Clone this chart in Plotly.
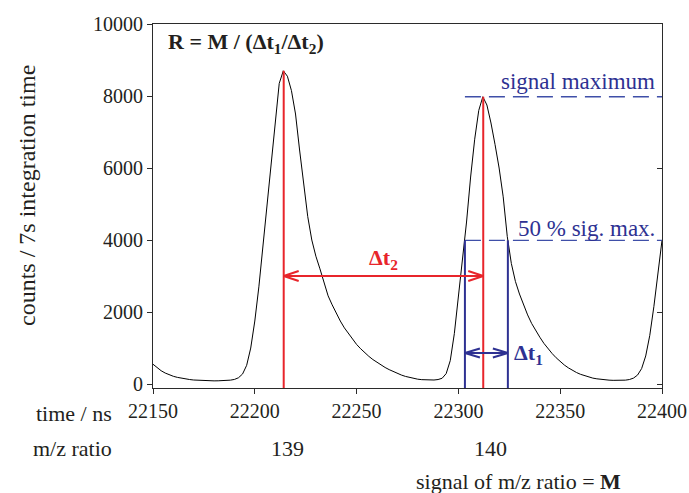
import plotly.graph_objects as go

# ---------------- data ----------------
time_ns = list(range(22150, 22401, 2))
counts = [
    550, 450, 370, 305, 255, 215, 185, 160, 140, 125,
    112, 104, 98, 93, 90, 88, 90, 92, 98, 108,
    128, 175, 280, 520, 1000, 1750, 2700, 3800, 5000, 6200,
    7250, 8350, 8700, 8550, 8150, 7500, 6500, 5500, 4650, 4000,
    3550, 3200, 2850, 2450, 2200, 1950, 1750, 1560, 1400, 1240,
    1100, 980, 870, 770, 680, 600, 525, 460, 400, 345,
    295, 250, 212, 180, 155, 135, 122, 112, 108, 112,
    125, 160, 290, 650, 1400, 2450, 3550, 4500, 5750, 6800,
    7600, 7980, 7750, 7250, 6650, 6000, 5200, 4100, 3350, 2850,
    2500, 2200, 1920, 1680, 1480, 1300, 1130, 980, 850, 730,
    620, 530, 450, 380, 320, 270, 230, 195, 165, 145,
    128, 116, 108, 103, 100, 102, 108, 125, 165, 250,
    430, 780, 1350, 2150, 3050, 3990,
]

x_ticks = [22150, 22200, 22250, 22300, 22350, 22400]
y_ticks = [0, 2000, 4000, 6000, 8000, 10000]
mz_labels = ["139", "140"]
mz_label_times = [22216, 22316]

peak_times = [22214.2, 22312.2]      # red lines
peak_heights = [8700, 7980]
signal_max = 7980
half_max = 3990
half_left, half_right = 22303.2, 22324.3
dt2_y = 3000
dt1_y = 860

X_MIN, X_MAX = 22150, 22400
Y_MIN, Y_MAX = -110, 10000

RED = "#E8252B"
BLUE = "#2E3192"
DBLUE = "#3F4FA8"
AX = "#2b2b2b"
TXT = "#231F20"
FONT = '"Liberation Serif", "Times New Roman", Times, serif'

W, H = 689, 493
ML, MR, MT, MB = 153, 27, 24, 105
PW, PH = W - ML - MR, H - MT - MB
px_x = (X_MAX - X_MIN) / PW   # data units per px
px_y = (Y_MAX - Y_MIN) / PH


def py(pix):
    return 1 - (pix - MT) / PH


def pxp(pix):
    return (pix - ML) / PW


fig = go.Figure()
fig.add_trace(go.Scatter(x=time_ns, y=counts, mode="lines",
                         line=dict(color="black", width=1), showlegend=False,
                         hoverinfo="skip"))
fig.add_trace(go.Scatter(x=[X_MIN], y=[0], yaxis="y2", mode="markers",
                         marker=dict(opacity=0), showlegend=False, hoverinfo="skip"))

shapes = []
for lvl in (signal_max, half_max):
    shapes.append(dict(type="line", xref="x", yref="y", x0=half_left, x1=X_MAX,
                       y0=lvl, y1=lvl, line=dict(color=DBLUE, width=1.3, dash="16px,8px")))
for t, h in zip(peak_times, peak_heights):
    shapes.append(dict(type="line", xref="x", yref="y", x0=t, x1=t, y0=Y_MIN, y1=h,
                       line=dict(color=RED, width=2)))
for t in (half_left, half_right):
    shapes.append(dict(type="line", xref="x", yref="y", x0=t, x1=t, y0=Y_MIN, y1=half_max,
                       line=dict(color=BLUE, width=2)))


def double_arrow(x0, x1, y, color, head_len_px=15, head_half_px=5):
    hl = head_len_px * px_x
    hh = head_half_px * px_y
    out = [dict(type="line", xref="x", yref="y", x0=x0, x1=x1, y0=y, y1=y,
                line=dict(color=color, width=2))]
    for xe, sgn in ((x0, 1), (x1, -1)):
        for d in (1, -1):
            out.append(dict(type="line", xref="x", yref="y", x0=xe, x1=xe + sgn * hl,
                            y0=y, y1=y + d * hh, line=dict(color=color, width=2)))
    return out


shapes += double_arrow(peak_times[0], peak_times[1], dt2_y, RED)
shapes += double_arrow(half_left, half_right, dt1_y, BLUE, head_len_px=15, head_half_px=4.5)


def ann(text, x, y, xanchor="center", size=22, color=TXT, xref="paper", yref="paper", **kw):
    return dict(text=text, xref=xref, yref=yref, x=x, y=y, xanchor=xanchor,
                yanchor="middle", showarrow=False,
                font=dict(family=FONT, size=size, color=color), **kw)


annotations = [
    ann("<b>R = M / (Δt<sub>1</sub>/Δt<sub>2</sub>)</b>", pxp(166), py(43), "left", 22),
    ann("signal maximum", 22397.5, py(81), "right", 23, BLUE, xref="x"),
    ann("50 % sig. max.", 22397.5, py(228), "right", 23, BLUE, xref="x"),
    ann("<b>Δt<sub>2</sub></b>", (peak_times[0] + peak_times[1]) / 2, dt2_y + 470,
        "center", 22, RED, xref="x", yref="y"),
    ann("<b>Δt<sub>1</sub></b>", half_right + 2, dt1_y - 20, "left", 22, BLUE,
        xref="x", yref="y"),
    ann("counts / 7s integration time", pxp(27), py(196), "center", 24, textangle=-90),
    ann("time / ns", pxp(114), py(413), "right", 22),
    ann("m/z ratio", pxp(114), py(448), "right", 22),
    ann("signal of m/z ratio = <b>M</b>", pxp(623), py(481), "right", 22),
]
for lab, t in zip(mz_labels, mz_label_times):
    annotations.append(ann(lab, t, py(448), "center", 22, xref="x"))

fig.update_layout(
    width=W, height=H,
    margin=dict(l=ML, r=MR, t=MT, b=MB, pad=0, autoexpand=False),
    paper_bgcolor="white", plot_bgcolor="white",
    showlegend=False,
    shapes=shapes, annotations=annotations,
    xaxis=dict(range=[X_MIN, X_MAX], tickvals=x_ticks, ticktext=[str(v) for v in x_ticks],
               ticks="outside", ticklen=5, tickcolor=AX, showline=True, linecolor=AX,
               linewidth=1, mirror=True, showgrid=False, zeroline=False, automargin=False,
               tickfont=dict(family=FONT, size=20, color=TXT)),
    yaxis=dict(range=[Y_MIN, Y_MAX], tickvals=y_ticks, ticktext=[str(v) for v in y_ticks],
               ticks="outside", ticklen=5,
               tickcolor=AX, showline=True, linecolor=AX, linewidth=1, automargin=False,
               showgrid=False, zeroline=False,
               tickfont=dict(family=FONT, size=20, color=TXT)),
    yaxis2=dict(range=[Y_MIN, Y_MAX], tickvals=y_ticks, ticks="inside", ticklen=5,
                tickcolor=AX, overlaying="y", side="right", anchor="x",
                showline=True, linecolor=AX, linewidth=1, showticklabels=False,
                showgrid=False, zeroline=False, automargin=False),
)

fig.write_html("out.html")
